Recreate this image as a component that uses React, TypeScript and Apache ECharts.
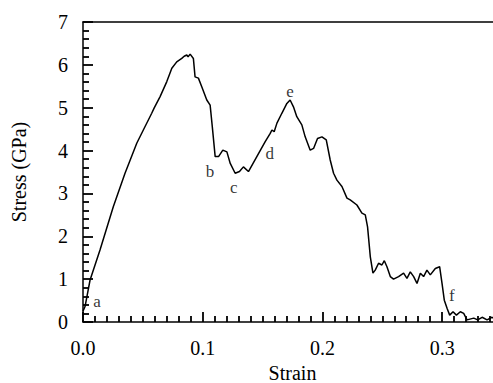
import React, { useEffect, useRef } from "react";
import * as echarts from "echarts";

const curve: [number, number][] = [
  [0, 0.25], [0.0017, 0.36], [0.0059, 0.98], [0.0142, 1.68], [0.0253, 2.69],
  [0.0351, 3.47], [0.0449, 4.17], [0.0504, 4.48], [0.0574, 4.87], [0.0594, 4.99],
  [0.0644, 5.26], [0.07, 5.61], [0.0742, 5.92], [0.0783, 6.07], [0.0825, 6.15],
  [0.0845, 6.2], [0.0867, 6.23], [0.0878, 6.19], [0.0895, 6.25], [0.0922, 6.15],
  [0.0936, 5.72], [0.0964, 5.69], [0.0992, 5.49], [0.1034, 5.18], [0.1062, 5.06],
  [0.108, 4.56], [0.1104, 3.86], [0.1132, 3.86], [0.1168, 4.01], [0.1202, 3.97],
  [0.123, 3.7], [0.1271, 3.47], [0.1307, 3.51], [0.134, 3.62], [0.1382, 3.51],
  [0.1452, 3.86], [0.1522, 4.21], [0.1564, 4.4], [0.1578, 4.48], [0.1597, 4.44],
  [0.162, 4.64], [0.1661, 4.87], [0.1703, 5.1], [0.173, 5.18], [0.1758, 5.02],
  [0.1786, 4.79], [0.1828, 4.6], [0.1856, 4.32], [0.1898, 4.01], [0.1926, 4.05],
  [0.1959, 4.28], [0.1996, 4.32], [0.2032, 4.25], [0.2065, 3.78], [0.2093, 3.47],
  [0.2121, 3.31], [0.2163, 3.16], [0.2205, 2.89], [0.2232, 2.85], [0.2288, 2.73],
  [0.233, 2.54], [0.2358, 2.5], [0.2377, 2.22], [0.24, 1.52], [0.2422, 1.14],
  [0.2441, 1.21], [0.2469, 1.37], [0.2497, 1.33], [0.2517, 1.43], [0.2539, 1.29],
  [0.2567, 1.06], [0.2594, 1.0], [0.2636, 1.06], [0.2678, 1.14], [0.2706, 1.02],
  [0.2734, 1.17], [0.2762, 1.06], [0.279, 0.9], [0.2818, 1.14], [0.2845, 1.06],
  [0.2873, 1.21], [0.2901, 1.1], [0.2943, 1.25], [0.2979, 1.29], [0.2999, 0.9],
  [0.3018, 0.51], [0.3041, 0.32], [0.3063, 0.16], [0.3091, 0.24], [0.3119, 0.16],
  [0.3152, 0.24], [0.318, 0.2], [0.3208, 0.05], [0.3264, 0.09], [0.3297, 0.05],
  [0.3334, 0.11], [0.3375, 0.05], [0.3417, 0.11], [0.345, 0.05],
];

const markLetters = ["a", "b", "c", "d", "e", "f"];
const markStrain = [0.0117, 0.106, 0.126, 0.156, 0.173, 0.308];
const markStress = [0.47, 3.52, 3.15, 3.94, 5.37, 0.61];

const FONT = "Times New Roman, Liberation Serif, serif";

export default function App() {
  const ref = useRef<HTMLDivElement>(null);
  useEffect(() => {
    if (!ref.current) return;
    const chart = echarts.init(ref.current, undefined, { renderer: "svg" });
    const tick = { color: "#000", width: 1.8 };
    chart.setOption({
      animation: false,
      backgroundColor: "#fff",
      textStyle: { fontFamily: FONT, color: "#000" },
      grid: { left: 83, top: 22, bottom: 61, right: -9, outerBoundsMode: "none", containLabel: false },
      xAxis: [
        {
          type: "value",
          min: 0,
          max: 0.35,
          interval: 0.1,
          position: "bottom",
          name: "Strain",
          nameLocation: "middle",
          nameGap: 41,
          nameTextStyle: { fontFamily: FONT, fontSize: 20, color: "#000" },
          axisLine: { show: true, onZero: false, lineStyle: { color: "#000", width: 1.5 } },
          axisTick: { show: true, inside: true, length: 10, lineStyle: tick },
          minorTick: { show: true, splitNumber: 10, length: 6, lineStyle: tick },
          splitLine: { show: false },
          axisLabel: {
            show: true,
            fontFamily: FONT,
            fontSize: 20,
            color: "#000",
            margin: 16,
            showMaxLabel: false,
            formatter: (v: number) => v.toFixed(1),
          },
        },
        {
          type: "value",
          min: 0,
          max: 0.35,
          position: "top",
          axisLine: { show: true, onZero: false, lineStyle: { color: "#000", width: 1.5 } },
          axisTick: { show: false },
          axisLabel: { show: false },
          splitLine: { show: false },
        },
      ],
      yAxis: {
        type: "value",
        min: 0,
        max: 7,
        interval: 1,
        name: "Stress (GPa)",
        nameLocation: "middle",
        nameGap: 54,
        nameTextStyle: { fontFamily: FONT, fontSize: 20, color: "#000" },
        axisLine: { show: true, onZero: false, lineStyle: { color: "#000", width: 1.5 } },
        axisTick: { show: true, inside: true, length: 10, lineStyle: tick },
        minorTick: { show: true, splitNumber: 5, length: 6, lineStyle: tick },
        splitLine: { show: false },
        axisLabel: { fontFamily: FONT, fontSize: 20, color: "#000", margin: 15 },
      },
      series: [
        {
          type: "line",
          data: curve,
          symbol: "none",
          lineStyle: { color: "#000", width: 1.5 },
          clip: true,
        },
        {
          type: "scatter",
          symbolSize: 0,
          data: markStrain.map((x, i) => ({
            value: [x, markStress[i]],
            label: {
              show: true,
              position: "inside",
              formatter: markLetters[i],
              fontFamily: FONT,
              fontSize: 17,
              color: "#000",
            },
          })),
        },
      ],
    });
    return () => chart.dispose();
  }, []);
  return <div ref={ref} style={{ width: 493, height: 383, position: "absolute", left: 0, top: 0 }} />;
}
